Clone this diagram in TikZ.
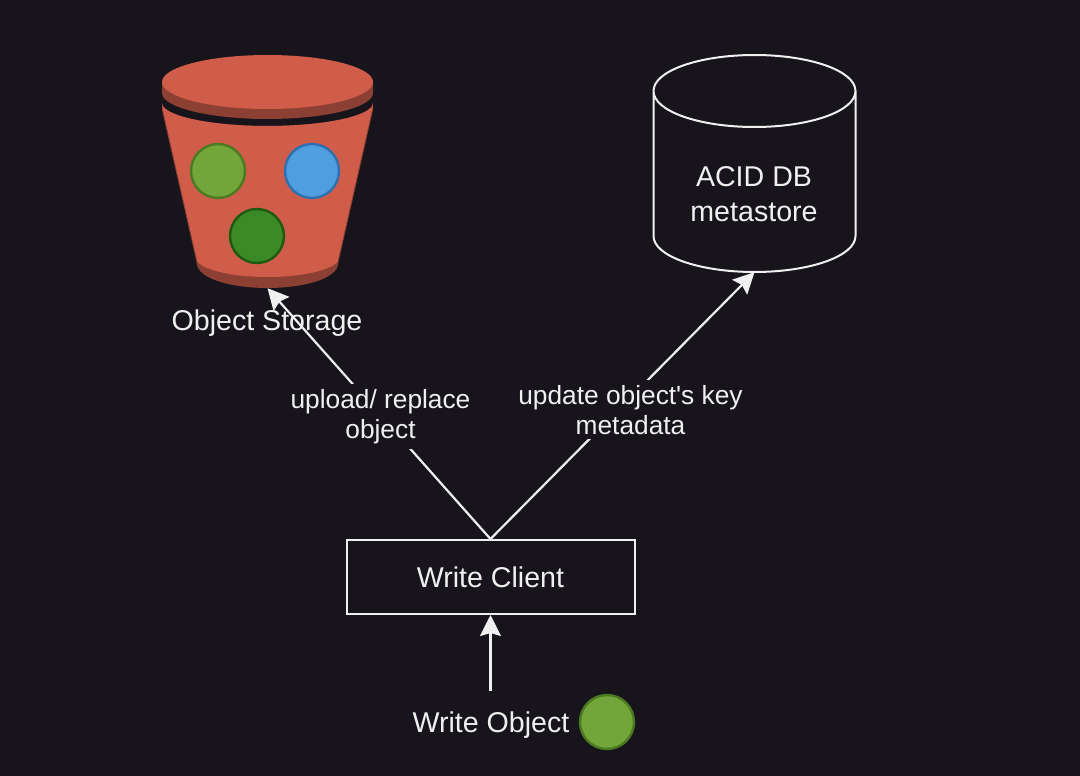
\documentclass[tikz,border=0pt]{standalone}
\usepackage{fontspec}
\setmainfont{Liberation Sans}
\usetikzlibrary{arrows.meta}
\definecolor{bgdark}{HTML}{18141C}
\definecolor{bucketlight}{HTML}{D05C4A}
\definecolor{bucketdark}{HTML}{8C4033}
\definecolor{inklight}{HTML}{F0F0F0}
\definecolor{lime1}{HTML}{72A63A}
\definecolor{lime2}{HTML}{4B7A20}
\definecolor{blue1}{HTML}{4F9FDF}
\definecolor{blue2}{HTML}{2F6FB0}
\definecolor{leaf1}{HTML}{3C8A26}
\definecolor{leaf2}{HTML}{1F5A10}
\tikzset{
  labeltext/.style={text=inklight,font=\fontsize{28.6}{35}\selectfont,align=center,inner sep=0pt},
  edgetext/.style={text=inklight,font=\fontsize{26.3}{30}\selectfont,align=center,fill=bgdark,inner xsep=1pt,inner ysep=5pt},
  flowline/.style={draw=inklight,line width=2.2pt,-{Stealth[length=21pt,width=21pt,inset=3pt]}},
  ball/.style={circle,minimum size=54pt,inner sep=0pt,line width=2.4pt},
  limeball/.style={ball,fill=lime1,draw=lime2},
  blueball/.style={ball,fill=blue1,draw=blue2},
  leafball/.style={ball,fill=leaf1,draw=leaf2}
}
\begin{document}
\begin{tikzpicture}[x=1pt,y=-1pt]
\fill [bgdark] (0,0) rectangle (1080,776);
\useasboundingbox (0,0) rectangle (1080,776);

%bucket
\fill [bucketdark] (162,103) .. controls (162,115.7) and (209.5,126) .. (267.5,126) .. controls (325.5,126) and (373,115.7) .. (373,103) -- (373,110) -- (338.5,262) .. controls (338.5,280) and (300,288) .. (267.5,288) .. controls (235,288) and (196.5,280) .. (196.5,262) -- (162,110) -- cycle;
\fill [bucketlight] (162,103) .. controls (162,115.7) and (209.5,126) .. (267.5,126) .. controls (325.5,126) and (373,115.7) .. (373,103) -- (372,110) -- (337.5,262) .. controls (329,271) and (300,277) .. (267.5,277) .. controls (235,277) and (206,271) .. (197.5,262) -- (163,110) -- cycle;
%lid
\fill [bucketdark] (162,83) -- (162,93) .. controls (162,107.4) and (209.5,119) .. (267.5,119) .. controls (325.5,119) and (373,107.4) .. (373,93) -- (373,83) -- cycle;
\fill [bucketlight] (267.5,82) ellipse (105.5 and 27);
\node [limeball] (objlime) at (218,171) {};
\node [blueball] (objblue) at (312,171) {};
\node [leafball] (objleaf) at (257,236) {};
\node [minimum width=212pt,minimum height=233pt,inner sep=0pt] (bucket) at (267.5,171.5) {};
\node [labeltext] (storelabel) at (267,323) {Object Storage};

%metastore
\node [minimum width=202pt,minimum height=217pt,inner sep=0pt] (metastore) at (754.5,163.5) {};
\node [labeltext] (metalabel) at (754,194) {ACID DB\\metastore};
\draw [inklight,line width=2pt] (653.5,91) .. controls (653.5,71) and (698.7,55) .. (754.5,55) .. controls (810.3,55) and (855.5,71) .. (855.5,91) .. controls (855.5,111) and (810.3,127) .. (754.5,127) .. controls (698.7,127) and (653.5,111) .. (653.5,91) -- (653.5,236) .. controls (653.5,256) and (698.7,272) .. (754.5,272) .. controls (810.3,272) and (855.5,256) .. (855.5,236) -- (855.5,91);

%client
\node [labeltext,draw=inklight,line width=2pt,minimum width=288pt,minimum height=74pt] (client) at (490.5,577) {Write Client};
\node [labeltext] (objlabel) at (491,725) {Write Object};
\node [limeball] (newobj) at (607,722) {};
\coordinate (objtop) at (490.5,691);

\draw [flowline] (client.north) -- node [edgetext,pos=.5,xshift=1.5pt,yshift=-3pt] {upload/ replace\\object} (bucket.south);
\draw [flowline] (client.north) -- node [edgetext,pos=.5,xshift=8pt,yshift=-4pt] {update object{\textquotesingle}s key\\metadata} (metastore.south);
\draw [flowline] (objtop) -- (client.south);
\end{tikzpicture}
\end{document}
